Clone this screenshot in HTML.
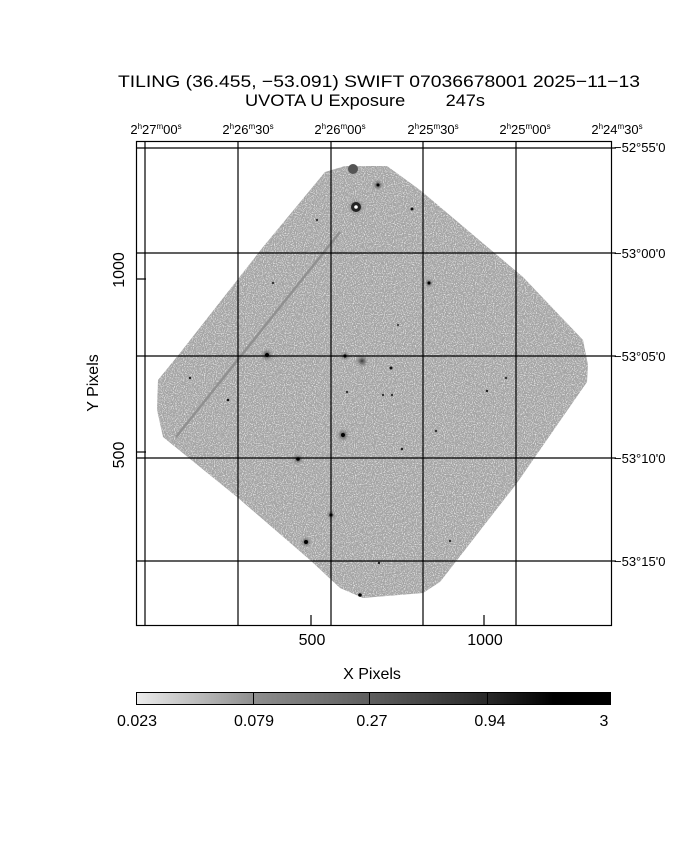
<!DOCTYPE html>
<html><head><meta charset="utf-8"><style>
html,body{margin:0;padding:0;background:#fff;}
svg text{font-family:"Liberation Sans",sans-serif;fill:#000;}
</style></head><body>
<svg width="680" height="850" viewBox="0 0 680 850" xmlns="http://www.w3.org/2000/svg">
<defs>
<filter id="noise" x="0" y="0" width="100%" height="100%">
<feTurbulence type="fractalNoise" baseFrequency="0.9" numOctaves="1" seed="3" result="t"/>
<feColorMatrix in="t" type="matrix" values="0 0 0 0 1  0 0 0 0 1  0 0 0 0 1  2.4 0 0 0 -1.15" result="w"/>
<feComposite in="w" in2="SourceGraphic" operator="in" result="wm"/>
<feMerge><feMergeNode in="SourceGraphic"/><feMergeNode in="wm"/></feMerge>
</filter>
<radialGradient id="halo"><stop offset="0" stop-color="#333"/><stop offset="1" stop-color="#999" stop-opacity="0"/></radialGradient>
<linearGradient id="cb" x1="0" x2="1"><stop offset="0" stop-color="#ececec"/><stop offset="0.25" stop-color="#8e8e8e"/><stop offset="0.5" stop-color="#5c5c5c"/><stop offset="0.75" stop-color="#262626"/><stop offset="0.88" stop-color="#000"/><stop offset="1" stop-color="#000"/></linearGradient>
</defs>
<text x="118" y="87" font-size="17" textLength="522" lengthAdjust="spacingAndGlyphs">TILING (36.455, −53.091) SWIFT 07036678001 2025−11−13</text>
<text x="245" y="106" font-size="17" textLength="240" lengthAdjust="spacingAndGlyphs" xml:space="preserve">UVOTA U Exposure        247s</text>
<g font-size="13" text-anchor="middle">
<text x="156" y="134">2<tspan font-size="8" dy="-5">h</tspan><tspan dy="5">27</tspan><tspan font-size="8" dy="-5">m</tspan><tspan dy="5">00</tspan><tspan font-size="8" dy="-5">s</tspan></text>
<text x="248" y="134">2<tspan font-size="8" dy="-5">h</tspan><tspan dy="5">26</tspan><tspan font-size="8" dy="-5">m</tspan><tspan dy="5">30</tspan><tspan font-size="8" dy="-5">s</tspan></text>
<text x="340" y="134">2<tspan font-size="8" dy="-5">h</tspan><tspan dy="5">26</tspan><tspan font-size="8" dy="-5">m</tspan><tspan dy="5">00</tspan><tspan font-size="8" dy="-5">s</tspan></text>
<text x="433" y="134">2<tspan font-size="8" dy="-5">h</tspan><tspan dy="5">25</tspan><tspan font-size="8" dy="-5">m</tspan><tspan dy="5">30</tspan><tspan font-size="8" dy="-5">s</tspan></text>
<text x="525" y="134">2<tspan font-size="8" dy="-5">h</tspan><tspan dy="5">25</tspan><tspan font-size="8" dy="-5">m</tspan><tspan dy="5">00</tspan><tspan font-size="8" dy="-5">s</tspan></text>
<text x="617" y="134">2<tspan font-size="8" dy="-5">h</tspan><tspan dy="5">24</tspan><tspan font-size="8" dy="-5">m</tspan><tspan dy="5">30</tspan><tspan font-size="8" dy="-5">s</tspan></text>
</g>
<g font-size="13">
<text x="614" y="152">−52°55'0</text><text x="614" y="258">−53°00'0</text><text x="614" y="361">−53°05'0</text><text x="614" y="463">−53°10'0</text><text x="614" y="566">−53°15'0</text>
</g>
<polygon filter="url(#noise)" fill="#a4a4a4" points="325,172 345,166 387,166 420,190 523,277 583,340 588,365 587,382 517,483 440,582 423,593 363,598 340,588 310,560 237,497 163,437 157,410 158,380 180,353 263,247"/>
<line x1="176" y1="437" x2="340" y2="232" stroke="#909090" stroke-width="2.5"/>
<g>
<circle cx="356" cy="207" r="9" fill="url(#halo)"/><circle cx="356" cy="207" r="5" fill="#222"/><circle cx="356" cy="207" r="1.8" fill="#fff"/>
<circle cx="353" cy="169" r="5" fill="#555"/>
<circle cx="378" cy="185" r="6" fill="url(#halo)"/><circle cx="378" cy="185" r="1.5" fill="#000"/>
<circle cx="412" cy="209" r="1.5" fill="#111"/>
<circle cx="429" cy="283" r="5" fill="url(#halo)"/><circle cx="429" cy="283" r="1.5" fill="#000"/>
<circle cx="267" cy="355" r="7" fill="url(#halo)"/><circle cx="267" cy="355" r="2" fill="#000"/>
<circle cx="345" cy="356" r="5" fill="url(#halo)"/><circle cx="345" cy="356" r="1.5" fill="#000"/>
<circle cx="362" cy="361" r="7" fill="url(#halo)"/>
<circle cx="391" cy="368" r="1.5" fill="#111"/>
<circle cx="343" cy="435" r="7" fill="url(#halo)"/><circle cx="343" cy="435" r="2" fill="#000"/>
<circle cx="298" cy="459" r="6" fill="url(#halo)"/><circle cx="298" cy="459" r="1.8" fill="#000"/>
<circle cx="331" cy="515" r="5" fill="url(#halo)"/><circle cx="331" cy="515" r="1.5" fill="#000"/>
<circle cx="306" cy="542" r="6" fill="url(#halo)"/><circle cx="306" cy="542" r="2" fill="#000"/>
<circle cx="360" cy="595" r="1.8" fill="#000"/>
<circle cx="228" cy="400" r="1.3" fill="#111"/><circle cx="190" cy="378" r="1.2" fill="#222"/>
<circle cx="402" cy="449" r="1.3" fill="#222"/><circle cx="436" cy="431" r="1.2" fill="#333"/>
<circle cx="487" cy="391" r="1.2" fill="#222"/><circle cx="506" cy="378" r="1.2" fill="#333"/>
<circle cx="379" cy="563" r="1.2" fill="#222"/><circle cx="450" cy="541" r="1.2" fill="#333"/>
<circle cx="273" cy="283" r="1.2" fill="#333"/><circle cx="317" cy="220" r="1.2" fill="#333"/>
<circle cx="383" cy="395" r="1.2" fill="#333"/><circle cx="392" cy="395" r="1.2" fill="#333"/>
<circle cx="347" cy="392" r="1.2" fill="#333"/><circle cx="398" cy="325" r="1.2" fill="#444"/>
</g>
<g stroke="#000" stroke-width="1.2" fill="none">
<rect x="136.5" y="141.5" width="475" height="484"/>
<line x1="145" y1="141" x2="145" y2="625"/>
<line x1="238" y1="141" x2="238" y2="625"/><line x1="331" y1="141" x2="331" y2="625"/>
<line x1="423" y1="141" x2="423" y2="625"/><line x1="516" y1="141" x2="516" y2="625"/>
<line x1="136" y1="148" x2="611" y2="148"/><line x1="136" y1="253" x2="611" y2="253"/>
<line x1="136" y1="356" x2="611" y2="356"/><line x1="136" y1="458" x2="611" y2="458"/>
<line x1="136" y1="561" x2="611" y2="561"/>
<line x1="311" y1="625" x2="311" y2="615"/><line x1="484" y1="625" x2="484" y2="615"/>
<line x1="136" y1="279" x2="146" y2="279"/><line x1="136" y1="452" x2="146" y2="452"/>
<line x1="611" y1="148" x2="616" y2="148"/><line x1="611" y1="253" x2="616" y2="253"/>
<line x1="611" y1="356" x2="616" y2="356"/><line x1="611" y1="458" x2="616" y2="458"/><line x1="611" y1="561" x2="616" y2="561"/>
</g>
<g font-size="16" text-anchor="middle">
<text x="312" y="645">500</text><text x="485" y="645">1000</text>
<text x="372" y="679">X Pixels</text>
<text transform="translate(124,270) rotate(-90)">1000</text>
<text transform="translate(124,455) rotate(-90)">500</text>
<text transform="translate(98,383) rotate(-90)">Y Pixels</text>
</g>
<rect x="136.5" y="692.5" width="474" height="12" fill="url(#cb)" stroke="#000"/>
<g stroke="#000"><line x1="253.5" y1="692" x2="253.5" y2="705"/><line x1="369.5" y1="692" x2="369.5" y2="705"/><line x1="487.5" y1="692" x2="487.5" y2="705"/></g>
<g font-size="16" text-anchor="middle">
<text x="137" y="726">0.023</text><text x="254" y="726">0.079</text><text x="372" y="726">0.27</text><text x="490" y="726">0.94</text><text x="604" y="726">3</text>
</g>
</svg>
</body></html>
